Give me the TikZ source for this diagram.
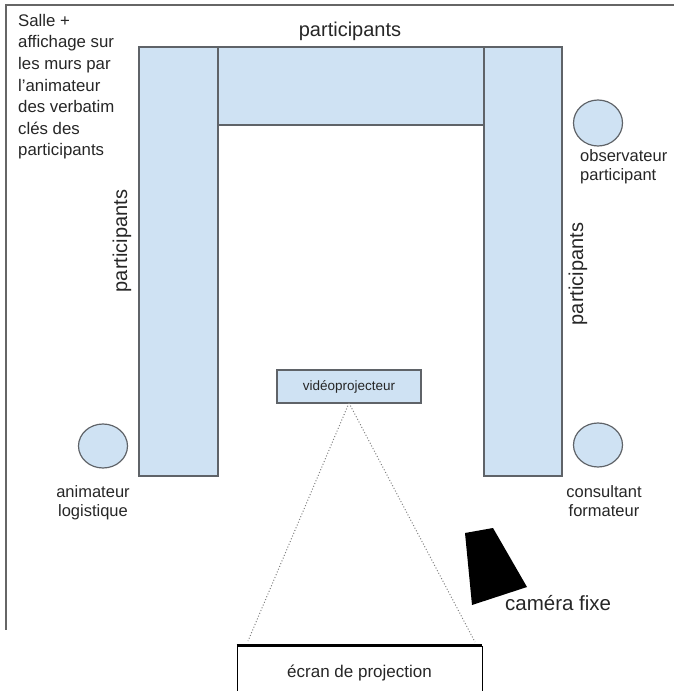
\documentclass[tikz,border=0pt]{standalone}
\usepackage{fontspec}
\setmainfont{Liberation Sans}
\usetikzlibrary{shapes.geometric}
\definecolor{tblfill}{HTML}{CFE2F3}
\definecolor{tbldraw}{HTML}{5F6368}
\definecolor{txt}{HTML}{262626}
\definecolor{wall}{HTML}{666666}
\begin{document}
\begin{tikzpicture}[x=1pt,y=-1pt,
  tbl/.style={draw=tbldraw, fill=tblfill, line width=1.2pt, inner sep=0pt, outer sep=0pt},
  person/.style={ellipse, draw=tbldraw, fill=tblfill, line width=1.2pt, inner sep=0pt, minimum width=49pt, minimum height=44pt},
  lbl/.style={text=txt, inner sep=0pt, font=\fontsize{16.5}{19.5}\selectfont},
  notefont/.style={text=txt, inner sep=0pt, font=\fontsize{16.8}{21.6}\selectfont},
  big/.style={text=txt, inner sep=0pt, font=\fontsize{20}{24}\selectfont},
]
\useasboundingbox (0,0) rectangle (674,691);
% walls
\coordinate (wtl) at (6,5);
\coordinate (wtr) at (674,5);
\coordinate (wbl) at (6,630);
\draw[wall, line width=1.3pt] (wtr) -- (wtl) -- (wbl);
% tables
\node[tbl, minimum width=79pt, minimum height=429pt] (tl) at (178.5,261.5) {};
\node[tbl, minimum width=78pt, minimum height=429pt] (tr) at (523,261.5) {};
\node[tbl, minimum width=266pt, minimum height=78pt] (tt) at (351,86) {};
% table labels
\node[big, anchor=base] (ptop) at (350,36) {participants};
\node[big, rotate=90] (pleft) at (122,241) {participants};
\node[big, rotate=90] (pright) at (578,274) {participants};
% room note
\node[notefont, anchor=north west, align=left] (note) at (18,14)
  {Salle +\\affichage sur\\les murs par\\l'animateur\\des verbatim\\clés des\\participants};
% persons
\node[person, minimum height=46pt] (obs) at (598,123) {};
\node[lbl, anchor=north west, align=left] (obsl) at (580,149) {observateur\\participant};
\node[person] (anim) at (103,446) {};
\node[lbl, anchor=north, align=center] (animl) at (93,485) {animateur\\logistique};
\node[person] (cons) at (598,445) {};
\node[lbl, anchor=north, align=center] (consl) at (604,485) {consultant\\formateur};
% projector
\node[tbl, minimum width=144pt, minimum height=33pt, text=txt, font=\fontsize{13.5}{16}\selectfont] (proj) at (349,386.5) {vidéoprojecteur};
% screen
\node[draw=black, line width=0.8pt, minimum width=245pt, minimum height=54pt, inner sep=0pt] (scr) at (359.5,673) {};
\node[text=txt, inner sep=0pt, font=\fontsize{17}{20}\selectfont] (scrt) at (359.5,673) {écran de projection};
\draw[line width=2.6pt] (scr.north west) -- (scr.north east);
\coordinate (sl) at (248,641);
\coordinate (sr) at (475,642);
\draw[gray, dotted, line width=1pt] (proj.south) -- (sl);
\draw[gray, dotted, line width=1pt] (proj.south) -- (sr);
% camera
\fill[black] (465,533) -- (493,528) -- (527,587) -- (472,605) -- cycle;
\node[text=txt, inner sep=0pt, anchor=base west, font=\fontsize{20.5}{24}\selectfont] (cam) at (505,610) {caméra fixe};
\end{tikzpicture}
\end{document}
